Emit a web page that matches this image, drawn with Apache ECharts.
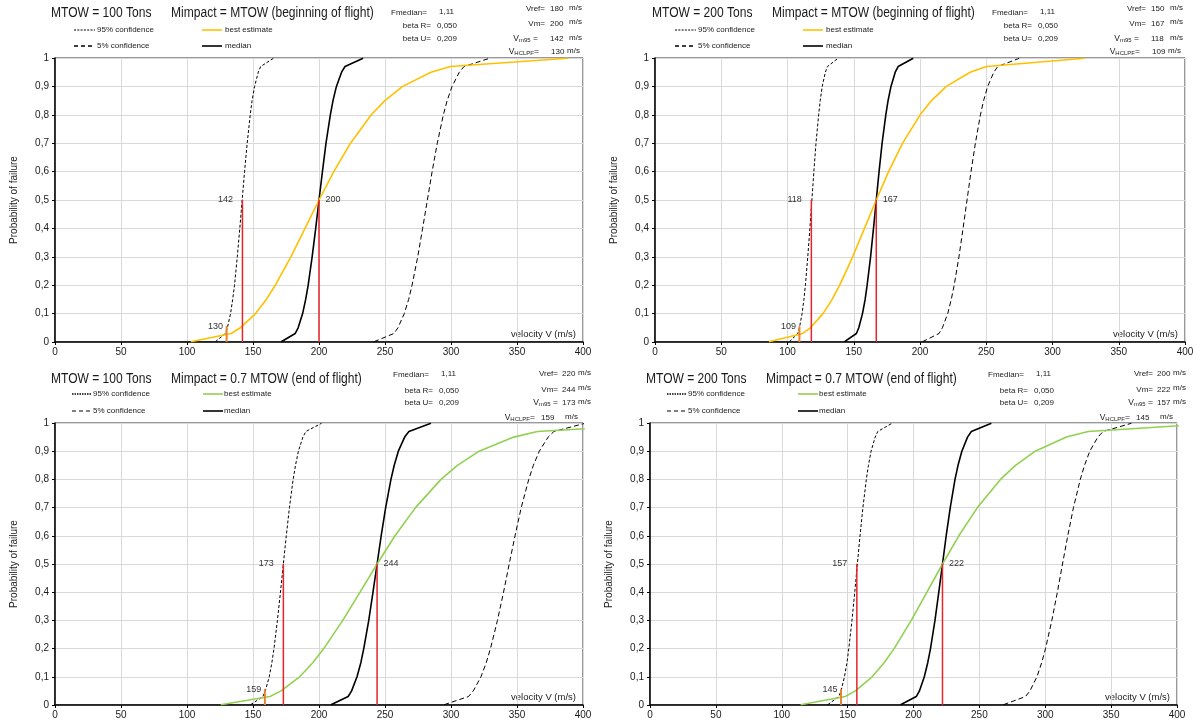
<!DOCTYPE html>
<html>
<head>
<meta charset="utf-8">
<script src="https://cdn.jsdelivr.net/npm/echarts@6/dist/echarts.min.js"></script>
<style>html,body{margin:0;padding:0;background:#fff}#c{width:1197px;height:726px}</style>
</head>
<body>
<div id="c"></div>
<script>
// ---------- data ----------
const probLevels = [0.001, 0.03, 0.05, 0.1, 0.15, 0.2, 0.3, 0.4, 0.5, 0.6, 0.7, 0.8, 0.85, 0.9, 0.95, 0.97, 0.999];
const xTickValues = [0, 50, 100, 150, 200, 250, 300, 350, 400];
const yTickLabels = ['0', '0,1', '0,2', '0,3', '0,4', '0,5', '0,6', '0,7', '0,8', '0,9', '1'];

// Panel A: MTOW = 100 Tons, Mimpact = MTOW
const aConf95 = [121.5, 129.1, 130.6, 133.0, 134.6, 136.0, 138.1, 140.0, 141.8, 143.6, 145.6, 147.9, 149.3, 151.2, 154.0, 155.8, 165.5];
const aConf5  = [241.7, 256.8, 259.8, 264.6, 267.9, 270.5, 274.8, 278.5, 282.1, 285.7, 289.6, 294.2, 297.1, 300.8, 306.3, 309.9, 329.2];
const aBest   = [103.0, 133.5, 140.4, 151.9, 160.1, 166.9, 178.7, 189.4, 200.0, 211.2, 223.9, 239.6, 249.9, 263.4, 284.8, 299.6, 388.5];
const aMedian = [171.4, 182.0, 184.2, 187.6, 189.9, 191.8, 194.8, 197.5, 200.0, 202.6, 205.3, 208.6, 210.6, 213.2, 217.1, 219.7, 233.4];

// Panel B: MTOW = 200 Tons, Mimpact = MTOW
const bConf95 = [101.4, 107.8, 109.0, 111.0, 112.4, 113.5, 115.3, 116.9, 118.4, 119.9, 121.5, 123.5, 124.7, 126.2, 128.6, 130.1, 138.2];
const bConf5  = [201.8, 214.4, 216.9, 220.9, 223.6, 225.8, 229.4, 232.5, 235.5, 238.5, 241.8, 245.6, 248.0, 251.1, 255.7, 258.7, 274.9];
const bBest   = [86.0, 111.5, 117.3, 126.8, 133.7, 139.4, 149.2, 158.1, 167.0, 176.3, 186.9, 200.1, 208.7, 219.9, 237.8, 250.2, 324.4];
const bMedian = [143.1, 152.0, 153.8, 156.6, 158.6, 160.1, 162.7, 164.9, 167.0, 169.1, 171.4, 174.2, 175.9, 178.1, 181.3, 183.5, 194.9];

// Panel C: MTOW = 100 Tons, Mimpact = 0.7 MTOW
const cConf95 = [148.2, 157.5, 159.3, 162.3, 164.3, 165.9, 168.5, 170.8, 173.0, 175.2, 177.6, 180.4, 182.2, 184.4, 187.8, 190.1, 201.9];
const cConf5  = [294.8, 313.2, 316.9, 322.7, 326.7, 329.9, 335.2, 339.8, 344.1, 348.5, 353.2, 358.9, 362.4, 366.9, 373.6, 378.0, 401.6];
const cBest   = [125.6, 162.9, 171.3, 185.3, 195.3, 203.6, 218.0, 231.1, 244.0, 257.6, 273.1, 292.4, 304.9, 321.3, 347.5, 365.5, 474.0];
const cMedian = [209.1, 222.1, 224.7, 228.8, 231.7, 233.9, 237.7, 240.9, 244.0, 247.1, 250.5, 254.5, 257.0, 260.1, 264.9, 268.1, 284.8];

// Panel D: MTOW = 200 Tons, Mimpact = 0.7 MTOW
const dConf95 = [134.9, 143.3, 145.0, 147.6, 149.5, 150.9, 153.3, 155.4, 157.4, 159.4, 161.6, 164.2, 165.8, 167.8, 170.9, 172.9, 183.7];
const dConf5  = [268.3, 285.0, 288.4, 293.7, 297.3, 300.2, 305.0, 309.2, 313.1, 317.1, 321.4, 326.6, 329.8, 333.8, 339.9, 344.0, 365.4];
const dBest   = [114.3, 148.2, 155.9, 168.6, 177.7, 185.3, 198.3, 210.2, 222.0, 234.4, 248.5, 266.0, 277.4, 292.4, 316.1, 332.6, 431.2];
const dMedian = [190.2, 202.1, 204.5, 208.2, 210.8, 212.9, 216.3, 219.2, 222.0, 224.8, 227.9, 231.5, 233.8, 236.7, 241.0, 243.9, 259.1];

// Panel parameters
const titleMTOW   = ['MTOW = 100 Tons', 'MTOW = 200 Tons', 'MTOW = 100 Tons', 'MTOW = 200 Tons'];
const titleImpact = ['Mimpact = MTOW (beginning of flight)', 'Mimpact = MTOW (beginning of flight)',
                     'Mimpact = 0.7 MTOW (end of flight)', 'Mimpact = 0.7 MTOW (end of flight)'];
const fMedian = ['1,11', '1,11', '1,11', '1,11'];
const betaR   = ['0,050', '0,050', '0,050', '0,050'];
const betaU   = ['0,209', '0,209', '0,209', '0,209'];
const vRef    = [180, 150, 220, 200];
const vM      = [200, 167, 244, 222];
const vM95    = [142, 118, 173, 157];
const vHCLPF  = [130, 109, 159, 145];
const hclpfMarkTop = 0.055;
const legendNames = ['95% confidence', '5% confidence', 'best estimate', 'median'];
const xAxisTitle = 'velocity V (m/s)';
const yAxisTitle = 'Probability of failure';

// ---------- styling / layout ----------
const ORANGE = '#FFC000', GREEN = '#92D050', RED = '#E3262A', HCL = '#E8822E';
const SANS = '"Liberation Sans", Arial, sans-serif';

const curves = [
  {c95: aConf95, c5: aConf5, best: aBest, med: aMedian, bestColor: ORANGE},
  {c95: bConf95, c5: bConf5, best: bBest, med: bMedian, bestColor: ORANGE},
  {c95: cConf95, c5: cConf5, best: cBest, med: cMedian, bestColor: GREEN},
  {c95: dConf95, c5: dConf5, best: dBest, med: dMedian, bestColor: GREEN}
];
const grids = [
  {left: 55, top: 58, width: 528, height: 284},
  {left: 655, top: 58, width: 530, height: 284},
  {left: 55, top: 423, width: 528, height: 282},
  {left: 650, top: 423, width: 527, height: 282}
];
// header templates (absolute for left panels) and shifts
const tplTop = {t1: [51, 13], t2: [171, 13], l1x: [74, 95], l2x: [202, 222], tx1: 97, tx2: 225, ly1: 30, ly2: 46,
  fmed: [391, 13], fmedVal: [439, 12], bR: [431, 26], bRVal: 437, bU: [431, 39],
  vRef: [545, 9], vVal: 550, unit: 569, vm: [545, 24], vm95: [538, 39], vh: [539, 52], vhVal: 551, vhUnit: 567,
  d95: [2, 1.3], w95: 1, d5: [4, 3], w5: 1.6};
const tplBot = {t1: [51, 379], t2: [171, 379], l1x: [72, 91], l2x: [203, 223], tx1: 93, tx2: 224, ly1: 394, ly2: 411,
  fmed: [393, 375], fmedVal: [441, 374], bR: [433, 391], bRVal: 439, bU: [433, 403],
  vRef: [558, 374], vVal: 562, unit: 578, vm: [558, 390], vm95: [558, 403], vh: [535, 418], vhVal: 541, vhUnit: 565,
  d95: [1.5, 1], w95: 1.6, d5: [4, 3], w5: 1};
const headerSpec = [
  {tpl: tplTop, dx: 0}, {tpl: tplTop, dx: 601}, {tpl: tplBot, dx: 0}, {tpl: tplBot, dx: 595}
];

function txt(x, y, s, font, align, extra) {
  return Object.assign({type: 'text', x: x, y: y, silent: true,
    style: {text: s, font: font, fill: '#1a1a1a', textAlign: align || 'left', textVerticalAlign: 'middle'}}, extra || {});
}
function richTxt(x, y, s, rich) {
  return {type: 'text', x: x, y: y, silent: true,
    style: {text: s, rich: rich, fill: '#1a1a1a', textAlign: 'right', textVerticalAlign: 'middle'}};
}
function seg(x1, x2, y, color, w, dash) {
  return {type: 'line', silent: true, shape: {x1: x1, y1: y, x2: x2, y2: y},
    style: {stroke: color, lineWidth: w, lineDash: dash || null}};
}

const graphics = [];
const small = '8px ' + SANS;
const num = '8px ' + SANS;
const smallRich = {a: {font: '8.5px ' + SANS, fill: '#1a1a1a'}, s: {font: '6px ' + SANS, fill: '#1a1a1a', verticalAlign: 'bottom', padding: [3, 0, 0, 0]}};
headerSpec.forEach((h, i) => {
  const t = h.tpl, dx = h.dx;
  graphics.push(txt(t.t1[0] + dx, t.t1[1], titleMTOW[i], '14px ' + SANS, 'left', {scaleX: 0.86}));
  graphics.push(txt(t.t2[0] + dx, t.t2[1], titleImpact[i], '14px ' + SANS, 'left', {scaleX: 0.86}));
  // legend
  graphics.push(seg(t.l1x[0] + dx, t.l1x[1] + dx, t.ly1, '#000', t.w95, t.d95));
  graphics.push(txt(t.tx1 + dx, t.ly1, legendNames[0], small));
  graphics.push(seg(t.l1x[0] + dx, t.l1x[1] + dx, t.ly2, '#000', t.w5, t.d5));
  graphics.push(txt(t.tx1 + dx, t.ly2, legendNames[1], small));
  graphics.push(seg(t.l2x[0] + dx, t.l2x[1] + dx, t.ly1, curves[i].bestColor, 1.6));
  graphics.push(txt(t.tx2 + dx, t.ly1, legendNames[2], small));
  graphics.push(seg(t.l2x[0] + dx, t.l2x[1] + dx, t.ly2, '#000', 1.6));
  graphics.push(txt(t.tx2 + dx, t.ly2, legendNames[3], small));
  // parameters
  graphics.push(txt(t.fmed[0] + dx, t.fmed[1], 'Fmedian=', small));
  graphics.push(txt(t.fmedVal[0] + dx, t.fmedVal[1], fMedian[i], num));
  graphics.push(txt(t.bR[0] + dx, t.bR[1], 'beta R=', small, 'right'));
  graphics.push(txt(t.bRVal + dx, t.bR[1], betaR[i], num));
  graphics.push(txt(t.bU[0] + dx, t.bU[1], 'beta U=', small, 'right'));
  graphics.push(txt(t.bRVal + dx, t.bU[1], betaU[i], num));
  // velocities
  graphics.push(txt(t.vRef[0] + dx, t.vRef[1], 'Vref=', small, 'right'));
  graphics.push(txt(t.vVal + dx, t.vRef[1], String(vRef[i]), num));
  graphics.push(txt(t.unit + dx, t.vRef[1] - 1, 'm/s', small));
  graphics.push(txt(t.vm[0] + dx, t.vm[1], 'Vm=', small, 'right'));
  graphics.push(txt(t.vVal + dx, t.vm[1], String(vM[i]), num));
  graphics.push(txt(t.unit + dx, t.vm[1] - 2, 'm/s', small));
  graphics.push(richTxt(t.vm95[0] + dx, t.vm95[1], '{a|V}{s|m95}{a| =}', smallRich));
  graphics.push(txt(t.vVal + dx, t.vm95[1], String(vM95[i]), num));
  graphics.push(txt(t.unit + dx, t.vm95[1] - 1, 'm/s', small));
  graphics.push(richTxt(t.vh[0] + dx, t.vh[1], '{a|V}{s|HCLPF}{a|=}', smallRich));
  graphics.push(txt(t.vhVal + dx, t.vh[1], String(vHCLPF[i]), num));
  graphics.push(txt(t.vhUnit + dx, t.vh[1] - 1, 'm/s', small));
  // x axis title inside plot
  const g = grids[i];
  graphics.push(txt(g.left + g.width - 7, g.top + g.height - 8, xAxisTitle, '9.5px ' + SANS, 'right'));
});

const xAxes = [], yAxes = [], series = [];
grids.forEach((g, i) => {
  xAxes.push({gridIndex: i, type: 'value', min: xTickValues[0], max: xTickValues[xTickValues.length - 1], interval: 50,
    axisLine: {show: true, onZero: false, lineStyle: {color: '#000', width: 1.5}},
    axisTick: {show: true, length: 3, lineStyle: {color: '#000'}},
    axisLabel: {fontSize: 10, color: '#1a1a1a', fontFamily: SANS, margin: 5},
    splitLine: {show: true, lineStyle: {color: '#d9d9d9', width: 1}}});
  yAxes.push({gridIndex: i, type: 'value', min: 0, max: 1, interval: 0.1,
    name: yAxisTitle, nameLocation: 'middle', nameGap: 36, nameRotate: 90,
    nameTextStyle: {fontSize: 10, color: '#1a1a1a', fontFamily: SANS},
    axisLine: {show: true, lineStyle: {color: '#000', width: 1.5}},
    axisTick: {show: true, length: 3, lineStyle: {color: '#000'}},
    axisLabel: {fontSize: 10, color: '#1a1a1a', fontFamily: SANS, margin: 6,
      formatter: v => yTickLabels[Math.round(v * 10)]},
    splitLine: {show: true, lineStyle: {color: '#d9d9d9', width: 1}}});
  const c = curves[i];
  const pts = arr => arr.map((x, k) => [x, probLevels[k]]);
  const base = {type: 'line', xAxisIndex: i, yAxisIndex: i, showSymbol: false, symbol: 'none', clip: true,
    animation: false, silent: true};
  series.push(Object.assign({}, base, {name: legendNames[0], data: pts(c.c95), lineStyle: {color: '#000', width: 1, type: [3, 2]}}));
  series.push(Object.assign({}, base, {name: legendNames[1], data: pts(c.c5), lineStyle: {color: '#000', width: 1, type: [5, 3]}}));
  series.push(Object.assign({}, base, {name: legendNames[3], data: pts(c.med), lineStyle: {color: '#000', width: 1.6}}));
  series.push(Object.assign({}, base, {name: legendNames[2], data: pts(c.best), lineStyle: {color: c.bestColor, width: 1.6}}));
  const lbl = {fontSize: 9, color: '#333', fontFamily: SANS};
  const vline = (x, top, color, w, pos, dist) => Object.assign({}, base, {
    showSymbol: true, symbol: 'none', z: 5,
    data: [[x, 0], {value: [x, top], symbol: 'circle', symbolSize: 1, itemStyle: {color: color},
      label: Object.assign({show: true, position: pos, distance: dist, formatter: String(x)}, lbl)}],
    lineStyle: {color: color, width: w}});
  series.push(vline(vM95[i], 0.5, RED, 1.5, 'left', 9));
  series.push(vline(vM[i], 0.5, RED, 1.5, 'right', 6));
  series.push(vline(vHCLPF[i], hclpfMarkTop, HCL, 2, 'left', 3));
});

const chart = echarts.init(document.getElementById('c'));
chart.setOption({
  animation: false,
  backgroundColor: '#fff',
  grid: grids.map(g => Object.assign({show: true, borderColor: '#333', borderWidth: 1, containLabel: false}, g)),
  xAxis: xAxes,
  yAxis: yAxes,
  series: series,
  graphic: graphics
});
</script>
</body>
</html>
